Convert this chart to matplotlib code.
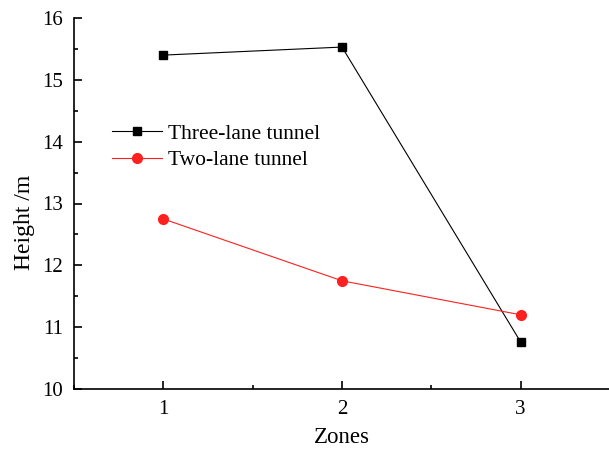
import matplotlib
matplotlib.use("Agg")
import matplotlib.pyplot as plt
from matplotlib.ticker import MultipleLocator

zones = [1, 2, 3]
three_lane = [15.40, 15.53, 10.76]
two_lane = [12.75, 11.75, 11.20]
series_labels = ["Three-lane tunnel", "Two-lane tunnel"]

plt.rcParams["font.family"] = ["Liberation Serif", "DejaVu Serif"]

fig = plt.figure(figsize=(6.09, 4.50), dpi=100)
ax = fig.add_axes([74 / 609, 61 / 450, (610 - 74) / 609, (389 - 18) / 450])

ax.plot(zones, three_lane, color="black", lw=0.8, marker="s", ms=6,
        label=series_labels[0])
ax.plot(zones, two_lane, color="#ff2020", lw=0.8, marker="o", ms=7,
        label=series_labels[1])

ax.set_xlim(0.5, 3.5)
ax.set_ylim(10, 16)
ax.xaxis.set_major_locator(MultipleLocator(1))
ax.xaxis.set_minor_locator(MultipleLocator(0.5))
ax.yaxis.set_major_locator(MultipleLocator(1))
ax.yaxis.set_minor_locator(MultipleLocator(0.5))
ax.tick_params(which="both", direction="in", width=1.2, labelsize=15)
ax.tick_params(which="major", length=6)
ax.tick_params(which="minor", length=3)
ax.tick_params(axis="x", pad=8)
ax.tick_params(axis="y", pad=8)

for side in ("top", "right"):
    ax.spines[side].set_visible(False)
for side in ("left", "bottom"):
    ax.spines[side].set_linewidth(1.2)

ax.set_xlabel("Zones", fontsize=16.5, labelpad=6)
ax.set_ylabel("Height /m", fontsize=17, va="center")
ax.yaxis.set_label_coords(-0.092, 0.45)

ax.legend(loc="upper left", bbox_to_anchor=(0.055, 0.738), frameon=False,
          fontsize=15.5, handlelength=2.3, handletextpad=0.3,
          labelspacing=0.3, borderaxespad=0.0)

fig.savefig("out.png", dpi=100)
